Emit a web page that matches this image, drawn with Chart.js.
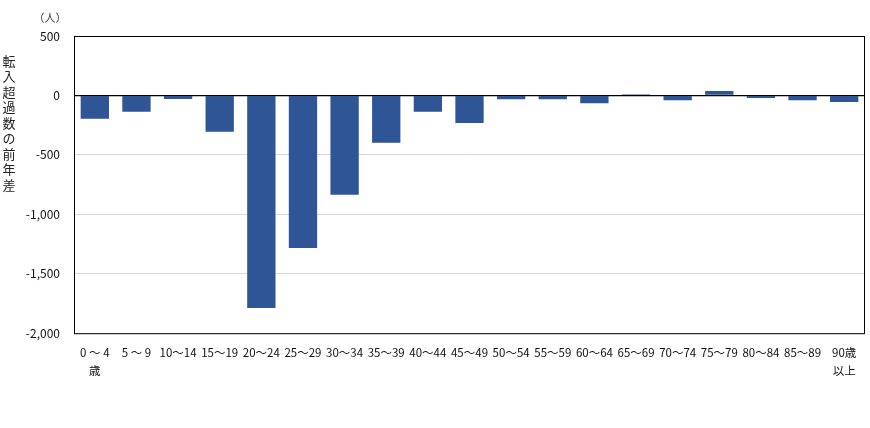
<!DOCTYPE html>
<html>
<head>
<meta charset="utf-8">
<script src="https://cdn.jsdelivr.net/npm/chart.js@4"></script>
<style>
  html, body { margin: 0; padding: 0; background: #fff; }
  #wrap { width: 870px; height: 428px; }
</style>
</head>
<body>
<div id="wrap"><canvas id="chart"></canvas></div>
<script>
// 年齢階級
const ageGroups = [
  ['0 ～ 4', '歳'], '5 ～ 9', '10～14', '15～19', '20～24', '25～29', '30～34',
  '35～39', '40～44', '45～49', '50～54', '55～59', '60～64', '65～69',
  '70～74', '75～79', '80～84', '85～89', ['90歳', '以上']
];
// 転入超過数の前年差（人）
const diffValues = [
  -197, -138, -29, -306, -1788, -1283, -835, -399, -138, -231,
  -31, -31, -65, 11, -40, 37, -22, -40, -55
];
const yTicks = [500, 0, -500, -1000, -1500, -2000];
const yTitle = '転入超過数の前年差';
const unitLabel = '（人）';

const FONT = '"Noto Sans CJK JP", "Noto Sans", sans-serif';

// 縦書きの軸タイトルと単位、枠線
const extras = {
  id: 'extras',
  afterDraw(chart) {
    const ctx = chart.ctx;
    const a = chart.chartArea;
    ctx.save();
    ctx.strokeStyle = '#000';
    ctx.lineWidth = 1;
    ctx.strokeRect(a.left + 0.5, a.top + 0.5, a.right - a.left - 1, a.bottom - a.top);
    ctx.fillStyle = '#222';
    ctx.font = '13px ' + FONT;
    ctx.textAlign = 'center';
    ctx.textBaseline = 'middle';
    [...yTitle].forEach((ch, i) => ctx.fillText(ch, 9, 61 + i * 15.5));
    ctx.font = '11px ' + FONT;
    ctx.fillStyle = '#444';
    ctx.fillText(unitLabel, 50, 18);
    ctx.restore();
  }
};

new Chart(document.getElementById('chart'), {
  type: 'bar',
  data: {
    labels: ageGroups,
    datasets: [{
      data: diffValues,
      backgroundColor: '#2F5597',
      categoryPercentage: 0.68,
      barPercentage: 1
    }]
  },
  options: {
    responsive: true,
    maintainAspectRatio: false,
    animation: false,
    layout: { padding: { top: 36, right: 5, left: 0, bottom: 46 } },
    plugins: { legend: { display: false }, tooltip: { enabled: false } },
    scales: {
      x: {
        grid: { display: false },
        border: { display: false },
        ticks: {
          color: '#111',
          font: { family: FONT, size: 11.5, lineHeight: 1.6 },
          maxRotation: 0,
          autoSkip: false,
          padding: 2
        }
      },
      y: {
        min: -2000,
        max: 500,
        afterBuildTicks(axis) { axis.ticks = yTicks.map(v => ({ value: v })); },
        afterFit(axis) { axis.width = 74; },
        border: { display: false },
        grid: {
          drawTicks: false,
          color: c => c.tick.value === 0 ? '#000' : '#d9d9d9',
          lineWidth: c => c.tick.value === 0 ? 1.2 : 1
        },
        ticks: {
          color: '#111',
          padding: 14,
          font: { family: FONT, size: 12 },
          callback: v => v.toLocaleString('en-US')
        }
      }
    }
  },
  plugins: [extras]
});
</script>
</body>
</html>
